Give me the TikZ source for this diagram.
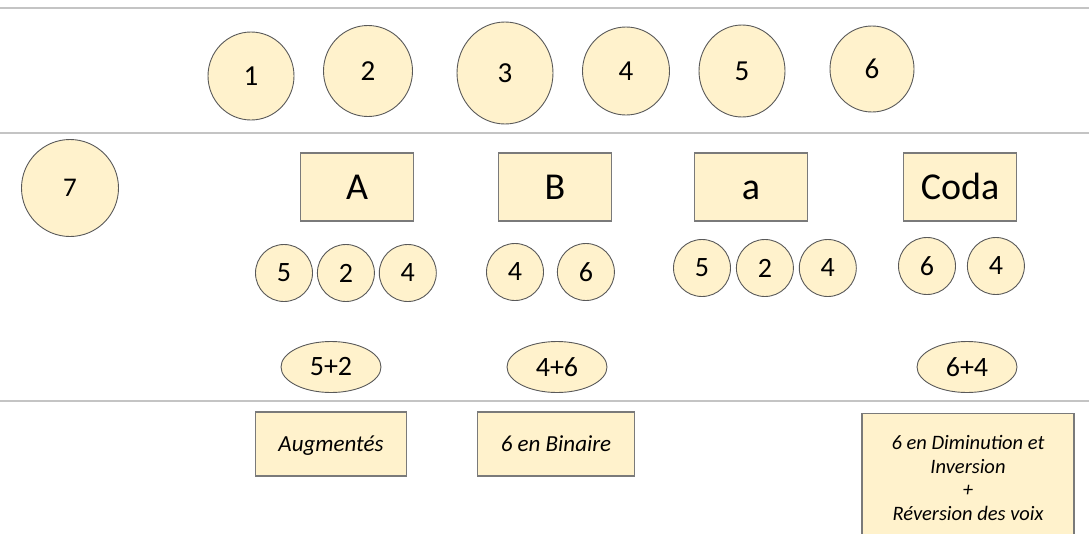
\documentclass[tikz,border=0pt]{standalone}
\usepackage{fontspec}
\setmainfont{Carlito}
\usetikzlibrary{positioning,shapes.geometric}
\definecolor{cream}{HTML}{FFF2CC}
\definecolor{rim}{HTML}{7A7A7A}
\definecolor{ruleline}{HTML}{C4C4C4}
\tikzset{
    motif/.style={shape=ellipse,draw=black!65,fill=cream,line width=0.9pt,inner sep=0pt,font=\fontsize{29}{32}\selectfont},
    small motif/.style={shape=circle,draw=black!65,fill=cream,line width=0.9pt,inner sep=0pt,minimum size=57,font=\fontsize{28}{30}\selectfont},
    section/.style={shape=rectangle,draw=rim,fill=cream,line width=1.3pt,minimum width=113,minimum height=68,text height=24.5pt,text depth=0pt,font=\fontsize{38}{40}\selectfont},
    combo/.style={shape=ellipse,draw=black!65,fill=cream,line width=0.9pt,inner sep=0pt,minimum width=100,minimum height=51,font=\fontsize{28}{30}\selectfont},
    remark/.style={shape=rectangle,draw=rim,fill=cream,line width=1.3pt,minimum height=64,text depth=0pt,font=\itshape\fontsize{23}{26}\selectfont}
}

\begin{document}
\begin{tikzpicture}[x=1pt,y=-1pt,node distance=4pt]
    \clip (0,0) rectangle (1089,533);
    \tikzstyle{sep}=[draw=ruleline,line width=1.4pt]
    % separators
    \draw[sep] (0,8) -- (1089,8);
    \draw[sep] (0,133) -- (1089,133);
    \draw[sep] (0,401) -- (1089,401);

    % motifs
    \node[motif, minimum width=86, minimum height=88] (m1) at (251,76) {1};
    \node[motif, minimum width=89, minimum height=91] (m2) at (368,71) {2};
    \node[motif, minimum width=96, minimum height=102] (m3) at (505,73) {3};
    \node[motif, minimum width=87, minimum height=88] (m4) at (626,71) {4};
    \node[motif, minimum width=86, minimum height=92] (m5) at (742,71) {5};
    \node[motif, minimum width=84, minimum height=86] (m6) at (872,69) {6};
    \node[motif, minimum width=97, minimum height=97, font=\fontsize{27}{30}\selectfont] (m7) at (70,188) {7};

    % sections
    \node[section] (secA) at (357,187) {A};
    \node[section] (secB) at (555,187) {B};
    \node[section] (seca) at (751,187) {a};
    \node[section] (coda) at (960,187) {Coda};

    \node[small motif] (A5) at (284,273) {5};
    \node[small motif, right=of A5] (A2) {2};
    \node[small motif, right=of A2] (A4) {4};

    \node[small motif] (B4) at (515,272) {4};
    \node[small motif, right=13pt of B4] (B6) {6};

    \node[small motif] (a5) at (702,268) {5};
    \node[small motif, right=5pt of a5] (a2) {2};
    \node[small motif, right=5pt of a2] (a4) {4};

    \node[small motif] (c6) at (927,266) {6};
    \node[small motif, right=11pt of c6] (c4) {4};

    \node[combo] (sumA) at (331,367) {5+2};
    \node[combo] (sumB) at (557,367) {4+6};
    \node[combo] (sumC) at (967,367) {6+4};

    % notes
    \node[remark, minimum width=151] (noteA) at (331,444) {Augmentés};
    \node[remark, minimum width=157] (noteB) at (556,444) {6 en Binaire};
    \node[remark, anchor=north, minimum width=212, inner ysep=22pt, align=center, text depth=,
          font=\itshape\fontsize{20.5}{23.5}\selectfont] (noteC) at (968,413)
          {6 en Diminution et\\Inversion\\+\\Réversion des voix};
\end{tikzpicture}
\end{document}
